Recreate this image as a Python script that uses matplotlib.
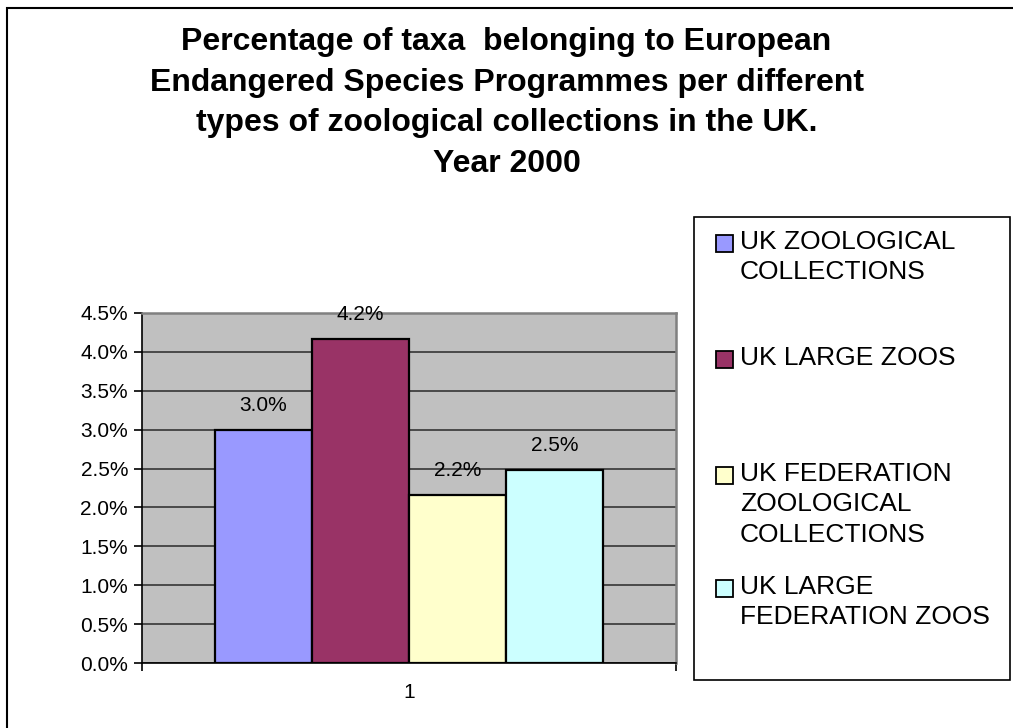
import matplotlib
matplotlib.use("Agg")
import matplotlib.pyplot as plt
from matplotlib.patches import Rectangle
from matplotlib.ticker import FuncFormatter, MultipleLocator, FixedLocator

# Data
categories = ["1"]
series_names = [
    "UK ZOOLOGICAL\nCOLLECTIONS",
    "UK LARGE ZOOS",
    "UK FEDERATION\nZOOLOGICAL\nCOLLECTIONS",
    "UK LARGE\nFEDERATION ZOOS",
]
series_values = [0.0300, 0.0416, 0.0216, 0.0248]
series_colors = ["#9999FF", "#993366", "#FFFFCC", "#CCFFFF"]
title_text = ("Percentage of taxa  belonging to European\n"
              "Endangered Species Programmes per different\n"
              "types of zoological collections in the UK.\n"
              "Year 2000")

plt.rcParams["font.family"] = ["Liberation Sans", "DejaVu Sans"]

W, H = 1013, 728
fig = plt.figure(figsize=(W / 100, H / 100), dpi=100)

# outer chart frame
fig.patches.append(Rectangle((7 / W, -0.01), 1.05, 1 - 8 / H + 0.01,
                             transform=fig.transFigure, fill=False,
                             edgecolor="black", linewidth=1.5))

left, right, top, bottom = 142, 676, 312.7, 663.3
ax = fig.add_axes([left / W, 1 - bottom / H, (right - left) / W, (bottom - top) / H])
ax.set_facecolor("#C0C0C0")

bar_w = 0.182
n = len(series_values)
for i, (v, c) in enumerate(zip(series_values, series_colors)):
    x = 1 + (i - (n - 1) / 2) * bar_w
    ax.bar(x, v, width=bar_w, color=c, edgecolor="black", linewidth=1.6, zorder=3)
    ax.annotate(f"{v * 100:.1f}%", (x, v), xytext=(0, 17.5),
                textcoords="offset points", ha="center", va="center",
                fontsize=15, color="black")

ax.set_xlim(0.5, 1.5)
ax.set_ylim(0, 0.045)
ax.yaxis.set_major_locator(MultipleLocator(0.005))
ax.yaxis.set_major_formatter(FuncFormatter(lambda v, p: f"{v * 100:.1f}%"))
ax.grid(axis="y", color="#404040", linewidth=1.3, zorder=1)
ax.set_axisbelow(True)

ax.xaxis.set_major_locator(FixedLocator([1]))
ax.set_xticklabels(categories)
ax.xaxis.set_minor_locator(FixedLocator([0.5, 1.5]))
ax.tick_params(axis="x", which="major", length=0, labelsize=15, pad=14)
ax.tick_params(axis="x", which="minor", length=6, width=1.2, direction="out")
ax.tick_params(axis="y", length=6, width=1.2, direction="out", labelsize=15, pad=4)

for s in ["top", "right"]:
    ax.spines[s].set_color("#808080")
    ax.spines[s].set_linewidth(1.8)
ax.spines["left"].set_color("black")
ax.spines["left"].set_linewidth(1.2)
ax.spines["bottom"].set_color("black")
ax.spines["bottom"].set_linewidth(1.2)

fig.text(0.5, 1 - 103 / H, title_text, ha="center", va="center",
         fontsize=23, fontweight="bold", linespacing=1.46)

# legend box
lx0, ly0, lx1, ly1 = 694, 217, 1010, 680
fig.patches.append(Rectangle((lx0 / W, 1 - ly1 / H), (lx1 - lx0) / W, (ly1 - ly0) / H,
                             transform=fig.transFigure, fill=True, facecolor="white",
                             edgecolor="black", linewidth=1.2))
entry_top = [233, 349, 465, 578]
for name, c, y in zip(series_names, series_colors, entry_top):
    fig.patches.append(Rectangle((716 / W, 1 - (y + 19) / H), 17 / W, 17 / H,
                                 transform=fig.transFigure, facecolor=c,
                                 edgecolor="black", linewidth=1.3))
    fig.text(740 / W, 1 - (y - 3) / H, name, ha="left", va="top",
             fontsize=19, linespacing=1.33)

fig.savefig("out.png", dpi=100)
